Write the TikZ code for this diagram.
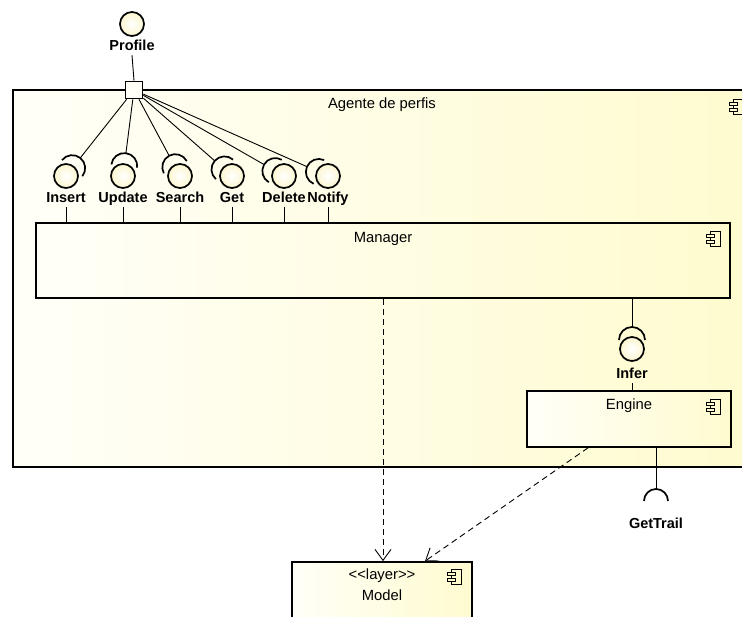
\documentclass[tikz,border=0pt]{standalone}
\usepackage{fontspec}
\setmainfont{Liberation Sans}
\usetikzlibrary{positioning,calc,arrows.meta}

\definecolor{boxwhite}{HTML}{FFFFF8}
\definecolor{boxyellow}{HTML}{FFFBCF}
\definecolor{ballyellow}{HTML}{FBF6CF}

\tikzset{
  compbox/.style={draw, line width=1.7pt, left color=boxwhite, right color=boxyellow, inner sep=0},
  boxtitle/.style={font=\fontsize{14.8}{17}\selectfont},
  ifacelabel/.style={font=\bfseries\fontsize{14.5}{16}\selectfont, inner sep=1pt, text height=11pt, text depth=3pt},
  ball/.style={circle, draw, line width=1.7pt, inner color=white, outer color=ballyellow, minimum size=24pt, inner sep=0},
  socket/.style={line width=1.7pt},
  conn/.style={line width=0.9pt},
  dep/.style={line width=0.9pt, dash pattern=on 6pt off 4pt, -{Straight Barb[length=11pt,width=16pt]}},
  compicon/.pic={
    \draw[line width=1.2pt, fill=boxyellow] (4,0) rectangle (14,15);
    \draw[line width=1.2pt, fill=boxyellow] (0,3) rectangle (8,6);
    \draw[line width=1.2pt, fill=boxyellow] (0,9) rectangle (8,12);
  }
}

\begin{document}
\begin{tikzpicture}[x=1pt, y=-1pt]
\useasboundingbox (0,0) rectangle (742,617);
\clip (0,0) rectangle (742,617);

\node[compbox, minimum width=738, minimum height=377] (agent) at (382,278.5) {};
\node[boxtitle] (agenttitle) at ([yshift=-16pt]agent.north) {Agente de perfis};
\pic at ([xshift=-22pt,yshift=-10pt]agent.north east) {compicon};

\node[compbox, minimum width=694, minimum height=75] (manager) at (383,260.5) {};
\node[boxtitle] (managertitle) at ([yshift=-17pt]manager.north) {Manager};
\pic at ([xshift=-24pt,yshift=-9pt]manager.north east) {compicon};

\node[compbox, minimum width=204, minimum height=56] (engine) at (629,419) {};
\node[boxtitle] (enginetitle) at ([yshift=-16pt]engine.north) {Engine};
\pic at ([xshift=-25pt,yshift=-9pt]engine.north east) {compicon};

\node[compbox, minimum width=180, minimum height=60] (model) at (382,592) {};
\node[boxtitle] (modelstereo) at ([yshift=-15pt]model.north) {{<}{<}layer{>}{>}};
\node[boxtitle] (modeltitle) at ([yshift=-34pt]model.north) {Model};
\pic at ([xshift=-25pt,yshift=-8pt]model.north east) {compicon};

% provided interface of the port
\node[ball] (profile) at (132,24) {};
\node[ifacelabel] (profile-lbl) at (132,47) {Profile};
\node[draw, line width=1.7pt, fill=boxwhite, minimum size=17pt, inner sep=0] (port) at (134,90) {};
\draw[conn] (profile-lbl.south) -- (port.north);

% interfaces of Manager, wired to the port
\foreach \nm/\xx/\txt in {insert/66/Insert, update/123/Update, search/180/Search,
    get/232/Get, delete/284/Delete, notify/328/Notify}{
  \node[ball] (\nm) at (\xx,176) {};
  \node[ifacelabel] (\nm-lbl) at (\xx,199) {\txt};
  \draw[conn] (\nm-lbl.south) -- (\nm-lbl.south |- manager.north);
  \draw[conn] let \p1=($(port)-(\nm)$), \n1={atan2(\y1,\x1)} in
    (port) -- ($(\nm)+(\n1:23pt)$);
  \draw[socket] let \p1=($(port)-(\nm)$), \n1={atan2(\y1,\x1)} in
    ($(\nm)+(\n1:10pt)+(\n1-90:13pt)$) arc[start angle=\n1-90, end angle=\n1+90, radius=13pt];
}

% Infer between Manager and Engine
\node[ball] (infer) at (632,349) {};
\node[ifacelabel] (infer-lbl) at (632,375) {Infer};
\draw[conn] (manager.south -| infer) -- ($(infer)+(90:22pt)$);
\draw[socket] ($(infer)+(90:9pt)+(0:13pt)$) arc[start angle=0, end angle=180, radius=13pt];
\draw[conn] (infer-lbl.south) -- (infer-lbl.south |- engine.north);

% required interface of Engine
\coordinate (gettrail) at (656,501);
\node[ifacelabel] (gettrail-lbl) at (656,525) {GetTrail};
\draw[conn] (engine.south -| gettrail) -- ($(gettrail)+(90:12pt)$);
\draw[socket] ($(gettrail)+(0:12pt)$) arc[start angle=0, end angle=180, radius=12pt];

% dependencies
\draw[dep] (manager.south) -- (manager.south |- model.north);
\draw[dep] ([xshift=-41pt]engine.south) -- ([xshift=43pt]model.north);

\end{tikzpicture}
\end{document}
